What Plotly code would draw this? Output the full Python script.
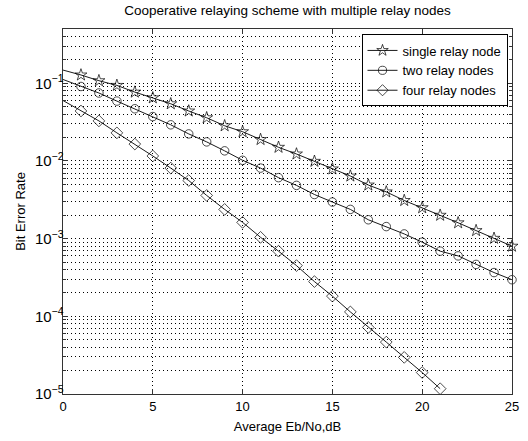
import plotly.graph_objects as go

snr_db = list(range(0, 26))
ber_single = [0.148, 0.128, 0.108, 0.094, 0.077, 0.065, 0.0545, 0.044, 0.036, 0.0284,
              0.0238, 0.0189, 0.0150, 0.0123, 0.0099, 0.0079, 0.0064, 0.0049, 0.0040,
              0.0031, 0.0025, 0.0020, 0.0016, 0.00127, 0.00101, 0.00080]
ber_two = [0.112, 0.091, 0.075, 0.059, 0.047, 0.0373, 0.0292, 0.0223, 0.0176, 0.0135,
           0.0102, 0.0081, 0.0061, 0.00485, 0.0037, 0.00296, 0.00238, 0.00175, 0.00143,
           0.00115, 0.0009, 0.00069, 0.0006, 0.000466, 0.000366, 0.000296]
snr_four = list(range(0, 22))
ber_four = [0.060, 0.044, 0.0328, 0.023, 0.0165, 0.0116, 0.0081, 0.0056, 0.0036, 0.00238,
            0.00162, 0.00104, 0.00069, 0.00045, 0.00028, 0.000182, 0.000114, 7.2e-5,
            4.66e-5, 2.96e-5, 1.89e-5, 1.17e-5]

series_names = ["single relay node", "two relay nodes", "four relay nodes"]
symbols = ["star-open", "circle-open", "diamond-open"]
marker_sizes = [9, 8.5, 9]

font = "Liberation Sans, Arial, sans-serif"
fig = go.Figure()
for name, xs, ys, sym, ms in zip(series_names, [snr_db, snr_db, snr_four],
                                 [ber_single, ber_two, ber_four], symbols, marker_sizes):
    sizes = [0 if x == 0 else ms for x in xs]
    fig.add_trace(go.Scatter(
        x=xs, y=ys, name=name, mode="lines+markers",
        line=dict(color="black", width=0.9),
        marker=dict(symbol=sym, size=sizes, color="black", line=dict(width=1, color="black")),
        cliponaxis=False,
    ))

grid_dash = "1px,3px"
fig.update_layout(
    width=528, height=441,
    margin=dict(l=63, r=9, t=29, b=42),
    paper_bgcolor="white", plot_bgcolor="white",
    font=dict(family=font, size=12, color="black"),
    title=dict(text="Cooperative relaying scheme with multiple relay nodes",
               x=0.5, xref="paper", xanchor="center", y=0.988, yanchor="top",
               font=dict(size=13.5, family=font)),
    showlegend=True,
    legend=dict(x=0.99, y=0.985, xanchor="right", yanchor="top",
                bgcolor="white", bordercolor="black", borderwidth=1,
                font=dict(size=13, family=font), tracegroupgap=0),
    xaxis=dict(range=[0, 25], dtick=5, tick0=0, showline=True, linecolor="#333",
               linewidth=1, mirror="ticks", ticks="inside", ticklen=5, tickcolor="#333",
               showgrid=True, gridcolor="black", gridwidth=1, griddash=grid_dash,
               zeroline=False,
               title=dict(text="Average Eb/No,dB", standoff=9, font=dict(size=13)),
               tickfont=dict(size=13)),
    yaxis=dict(type="log", range=[-5, -0.301], dtick=1, exponentformat="power",
               showline=True, linecolor="#333", linewidth=1, mirror="ticks",
               ticks="inside", ticklen=5, tickcolor="#333",
               showgrid=True, gridcolor="black", gridwidth=1, griddash=grid_dash,
               minor=dict(showgrid=True, gridcolor="black", gridwidth=1, griddash=grid_dash,
                          ticks="inside", ticklen=3, tickcolor="#333"),
               ticklabelstandoff=-4,
               title=dict(text="Bit Error Rate", standoff=6, font=dict(size=13)),
               tickfont=dict(size=12)),
)
fig.write_html("out.html", config={"displayModeBar": False},
               post_script="document.body.style.margin='0';document.body.style.overflow='hidden';")
